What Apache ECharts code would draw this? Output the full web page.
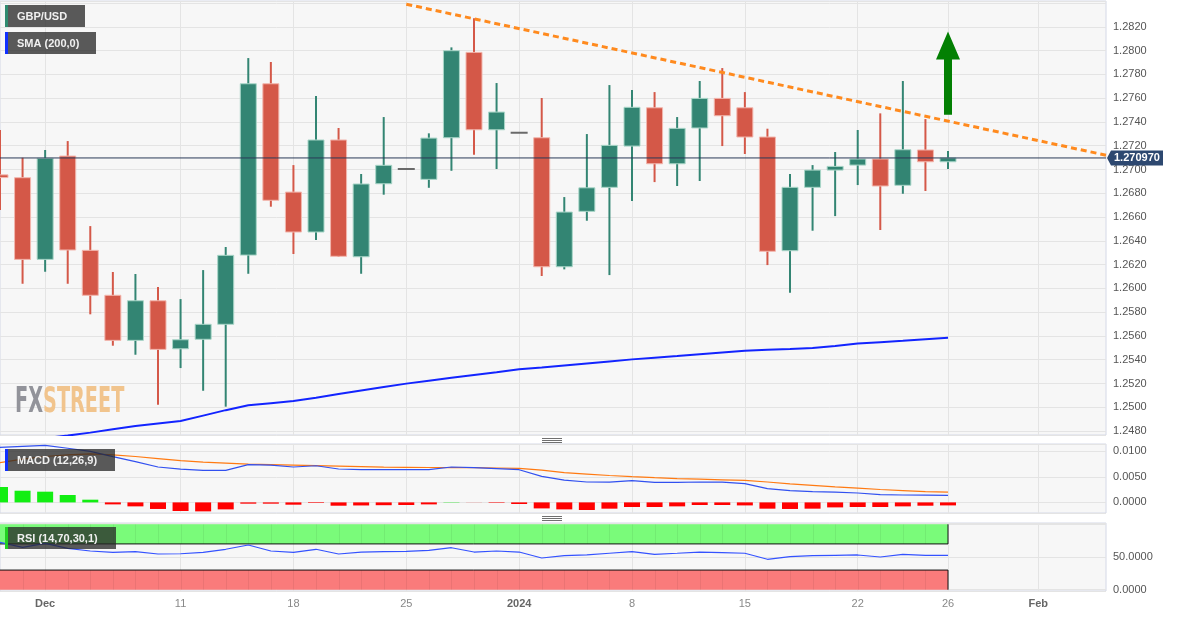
<!DOCTYPE html>
<html><head><meta charset="utf-8">
<script src="https://cdn.jsdelivr.net/npm/echarts@6.0.0/dist/echarts.min.js"></script>
<style>html,body{margin:0;padding:0;background:#fff;}#chart{width:1182px;height:617px;}</style>
</head><body><div id="chart"></div>
<script>
// ---------- data ----------
const dates = ['2023-11-29','2023-11-30','2023-12-01','2023-12-04','2023-12-05','2023-12-06','2023-12-07','2023-12-08',
'2023-12-11','2023-12-12','2023-12-13','2023-12-14','2023-12-15','2023-12-18','2023-12-19','2023-12-20','2023-12-21','2023-12-22',
'2023-12-25','2023-12-26','2023-12-27','2023-12-28','2023-12-29','2024-01-01','2024-01-02','2024-01-03','2024-01-04','2024-01-05',
'2024-01-08','2024-01-09','2024-01-10','2024-01-11','2024-01-12','2024-01-15','2024-01-16','2024-01-17','2024-01-18','2024-01-19',
'2024-01-22','2024-01-23','2024-01-24','2024-01-25','2024-01-26','2024-01-29','2024-01-30','2024-01-31','2024-02-01','2024-02-02',
'2024-02-05','2024-02-06'];
const tickDates = ['2023-12-01','2023-12-11','2023-12-18','2023-12-25','2024-01-01','2024-01-08','2024-01-15','2024-01-22','2024-01-26','2024-02-01'];
const tickLabels = ['Dec','11','18','25','2024','8','15','22','26','Feb'];
const boldLabels = ['Dec','2024','Feb'];

const opens  = [1.26955,1.26931,1.26244,1.27113,1.26320,1.25942,1.25563,1.25896,1.25492,1.25572,1.25698,1.26280,1.27721,1.26810,1.26474,1.27248,1.26266,1.26880,1.27004,1.26917,1.27267,1.27985,1.27334,1.27309,1.27267,1.26182,1.26648,1.26850,1.27197,1.27519,1.27048,1.27349,1.27598,1.27519,1.27273,1.26317,1.26850,1.26995,1.27037,1.27088,1.26867,1.27164,1.27065];
const closes = [1.26932,1.26244,1.27094,1.26323,1.25942,1.25563,1.25896,1.25487,1.25568,1.25698,1.26278,1.27721,1.26741,1.26474,1.27248,1.26270,1.26878,1.27035,1.27004,1.27264,1.27999,1.27334,1.27483,1.27309,1.26182,1.26642,1.26846,1.27203,1.27523,1.27048,1.27346,1.27598,1.27452,1.27273,1.26312,1.26850,1.26995,1.27026,1.27088,1.26861,1.27166,1.27065,1.27097];
const lows   = [1.26659,1.26039,1.26140,1.26039,1.25782,1.25518,1.25442,1.25022,1.25330,1.25139,1.25005,1.26123,1.26687,1.26289,1.26407,1.26264,1.26123,1.26788,1.27004,1.26846,1.26989,1.27124,1.27004,1.27309,1.26104,1.26160,1.26569,1.26112,1.26735,1.26894,1.26861,1.26903,1.27197,1.27130,1.26196,1.25963,1.26485,1.26608,1.26869,1.26491,1.26796,1.26819,1.27004];
const highs  = [1.27332,1.27099,1.27164,1.27239,1.26524,1.26138,1.26121,1.26011,1.25910,1.26154,1.26348,1.27937,1.27904,1.27037,1.27618,1.27349,1.26962,1.27441,1.27004,1.27304,1.28027,1.28271,1.27727,1.27309,1.27601,1.26768,1.27298,1.27710,1.27668,1.27651,1.27441,1.27744,1.27853,1.27651,1.27343,1.26962,1.27037,1.27147,1.27332,1.27472,1.27744,1.27424,1.27155];

const sma200 = [1.24690,1.24716,1.24741,1.24762,1.24787,1.24816,1.24842,1.24863,1.24884,1.24930,1.24976,1.25018,1.25035,1.25052,1.25081,1.25111,1.25141,1.25171,1.25199,1.25224,1.25248,1.25272,1.25295,1.25319,1.25335,1.25352,1.25369,1.25386,1.25403,1.25417,1.25431,1.25446,1.25461,1.25475,1.25483,1.25490,1.25498,1.25515,1.25536,1.25548,1.25560,1.25573,1.25584];

const macdLine = [0.01078,0.01098,0.01117,0.01062,0.01000,0.00896,0.00798,0.00694,0.00651,0.00627,0.00627,0.00739,0.00729,0.00694,0.00719,0.00655,0.00641,0.00641,0.00641,0.00641,0.00694,0.00680,0.00661,0.00641,0.00510,0.00435,0.00400,0.00396,0.00425,0.00392,0.00392,0.00400,0.00396,0.00367,0.00269,0.00229,0.00210,0.00200,0.00184,0.00151,0.00145,0.00141,0.00137];
const signalLine = [0.00780,0.00850,0.00900,0.00930,0.00950,0.00930,0.00900,0.00860,0.00820,0.00790,0.00770,0.00750,0.00740,0.00730,0.00720,0.00710,0.00700,0.00690,0.00688,0.00684,0.00682,0.00680,0.00674,0.00666,0.00632,0.00585,0.00555,0.00527,0.00505,0.00485,0.00468,0.00455,0.00443,0.00430,0.00400,0.00365,0.00335,0.00305,0.00280,0.00253,0.00232,0.00213,0.00200];
const macdHist = [0.00302,0.00229,0.00210,0.00145,0.00053,-0.00039,-0.00078,-0.00129,-0.00169,-0.00176,-0.00137,-0.00025,-0.00025,-0.00045,-0.00012,-0.00065,-0.00060,-0.00055,-0.00051,-0.00039,0.00006,-0.00002,-0.00010,-0.00031,-0.00118,-0.00137,-0.00149,-0.00123,-0.00090,-0.00090,-0.00078,-0.00051,-0.00051,-0.00059,-0.00123,-0.00129,-0.00123,-0.00098,-0.00090,-0.00090,-0.00078,-0.00065,-0.00059];

const rsi = [72.5,64.8,70.9,63.3,59.2,57.2,58.1,54.6,55.0,57.2,61.8,68.3,59.2,57.2,61.8,54.6,57.6,58.1,58.7,60.2,64.2,57.6,59.2,57.6,48.5,52.0,53.1,55.7,58.1,54.1,55.7,57.6,56.6,55.7,46.5,50.5,52.0,52.6,53.1,50.0,54.1,52.6,52.6];
const rsiBands = [[70,100],[0,30]];

const lastPrice = 1.270970;
const trendLine = [['2023-12-25',1.2839],['2024-02-06',1.2712]];
const arrowUp = ['2024-01-26',1.2746,1.2816];

// ---------- helpers ----------
const FONT = "'Liberation Sans', Arial, sans-serif";
const lastIdx = closes.length - 1;
const isTick = (i) => tickDates.indexOf(dates[i]) >= 0;
const isMult = (v, s) => Math.abs(v / s - Math.round(v / s)) < 1e-6;
const candleData = opens.map((o, i) => [i, o, closes[i], lows[i], highs[i]]);

function renderCandle(params, api) {
  const i = api.value(0), o = api.value(1), c = api.value(2), l = api.value(3), h = api.value(4);
  const po = api.coord([i, o]), pc = api.coord([i, c]), pl = api.coord([i, l]), ph = api.coord([i, h]);
  const x = po[0], W = 17;
  if (o === c) {
    return {type:'rect', shape:{x:x - W/2, y:po[1] - 1, width:W, height:2}, style:{fill:'#6a6a6a'}};
  }
  const up = c > o;
  const fill = up ? '#338573' : '#d45848';
  const edge = up ? '#a9d6c8' : '#f2b6ad';
  const top = Math.min(po[1], pc[1]), bot = Math.max(po[1], pc[1]);
  return {type:'group', children:[
    {type:'rect', shape:{x:x - 1, y:ph[1], width:2, height:pl[1] - ph[1]}, style:{fill:fill}},
    {type:'rect', shape:{x:x - W/2 + 0.5, y:top, width:W - 1, height:Math.max(bot - top, 1.5)}, style:{fill:fill, stroke:edge, lineWidth:1}}
  ]};
}

function renderArrow(params, api) {
  const i = api.value(0);
  const pf = api.coord([i, api.value(1)]), pt = api.coord([i, api.value(2)]);
  const x = pf[0], yF = pf[1], yT = pt[1], hl = 28, sw = 4, hw = 12;
  return {type:'polygon', shape:{points:[[x - sw, yF],[x - sw, yT + hl],[x - hw, yT + hl],[x, yT],[x + hw, yT + hl],[x + sw, yT + hl],[x + sw, yF]]},
    style:{fill:'#038003'}};
}

function renderTag(params, api) {
  const p = api.coord([api.value(0), api.value(1)]);
  const cs = params.coordSys;
  const xr = cs.x + cs.width, y = p[1];
  return {type:'group', children:[
    {type:'polygon', shape:{points:[[xr + 1, y],[xr + 5, y - 7.5],[xr + 57, y - 7.5],[xr + 57, y + 7.5],[xr + 5, y + 7.5]]}, style:{fill:'#2d4870'}},
    {type:'text', x:xr + 8, y:y + 0.5, style:{text:lastPrice.toFixed(6), fill:'#ffffff', font:'bold 11px ' + FONT, align:'left', verticalAlign:'middle'}}
  ]};
}

function renderBand(params, api) {
  const endI = api.value(0), lo = api.value(1), hi = api.value(2);
  const cs = params.coordSys;
  const xl = cs.x - 2;
  const xe = api.coord([endI, lo])[0];
  const yLo = api.coord([endI, lo])[1], yHi = api.coord([endI, hi])[1];
  const green = params.dataIndex === 0;
  const children = [
    {type:'rect', shape:{x:xl, y:yHi, width:xe - xl, height:yLo - yHi}, style:{fill: green ? '#7afb7a' : '#fa7b7b'}}
  ];
  for (let k = 1; k < endI; k++) {
    const xk = Math.round(api.coord([k, lo])[0]) + 0.5;
    children.push({type:'line', shape:{x1:xk, y1:yHi, x2:xk, y2:yLo}, style:{stroke:'rgba(0,0,0,0.06)', lineWidth:1}});
  }
  const yEdge = green ? yLo : yHi;
  children.push({type:'line', shape:{x1:xl, y1:yEdge, x2:xe, y2:yEdge}, style:{stroke:'#111', lineWidth:1}});
  children.push({type:'line', shape:{x1:xe, y1:yHi, x2:xe, y2:yLo}, style:{stroke:'#111', lineWidth:1}});
  return {type:'group', children:children};
}

function legendBox(x, y, w, text, barColor) {
  return {type:'group', x:x, y:y, z:100, children:[
    {type:'rect', z:100, shape:{x:0, y:0, width:w, height:22}, style:{fill:'rgba(40,40,40,0.76)'}},
    {type:'rect', z:101, shape:{x:0, y:0, width:3, height:22}, style:{fill:barColor}},
    {type:'text', z:102, x:12, y:11.5, style:{text:text, fill:'#f0f0f0', font:'bold 11px ' + FONT, verticalAlign:'middle'}}
  ]};
}
function handle(cx, cy) {
  const ch = [];
  for (let k = -1; k <= 1; k++) ch.push({type:'line', z:100, shape:{x1:cx - 10, y1:cy + 2*k + 0.5, x2:cx + 10, y2:cy + 2*k + 0.5}, style:{stroke:'#707070', lineWidth:1}});
  return {type:'group', z:100, children:ch};
}

const gridStyle = {show:true, backgroundColor:'#f7f7f7', borderColor:'#d4d8e6', borderWidth:1};
const splitCol = '#e4e4e4';

const xAxes = [0,1,2].map(g => ({
  type:'category', gridIndex:g, data:dates, boundaryGap:false,
  axisLine:{show:false}, axisTick:{show:false},
  splitLine:{show:true, interval:(i) => isTick(i), lineStyle:{color:splitCol, width:1}},
  axisLabel: g === 2 ? {
    show:true, interval:(i) => isTick(i), margin:7, fontSize:11, fontFamily:FONT, color:'#888',
    formatter:(v) => { const k = tickDates.indexOf(v); if (k < 0) return ''; const t = tickLabels[k]; return boldLabels.indexOf(t) >= 0 ? '{b|' + t + '}' : '{n|' + t + '}'; },
    rich:{b:{fontWeight:'bold', color:'#666', fontSize:11, fontFamily:FONT}, n:{color:'#888', fontSize:11, fontFamily:FONT}}
  } : {show:false, interval:(i) => isTick(i)}
}));

const yLabel = {color:'#555', fontSize:11, fontFamily:FONT, margin:7};

const option = {
  animation:false,
  backgroundColor:'#ffffff',
  textStyle:{fontFamily:FONT},
  grid:[
    Object.assign({left:0, top:1, width:1106, height:434}, gridStyle),
    Object.assign({left:0, top:444, width:1106, height:69}, gridStyle),
    Object.assign({left:0, top:523, width:1106, height:68}, gridStyle)
  ],
  xAxis:xAxes,
  yAxis:[
    {type:'value', gridIndex:0, position:'right', min:1.24767, max:1.28417, minInterval:0.002, maxInterval:0.002, splitNumber:18,
      axisLine:{show:false}, axisTick:{show:false}, splitLine:{lineStyle:{color:splitCol}},
      axisLabel:Object.assign({formatter:(v) => (isMult(v, 0.002) && v < 1.283) ? v.toFixed(4) : ''}, yLabel)},
    {type:'value', gridIndex:1, position:'right', min:-0.00208, max:0.01145, minInterval:0.005, maxInterval:0.005, splitNumber:3,
      axisLine:{show:false}, axisTick:{show:false}, splitLine:{lineStyle:{color:splitCol}},
      axisLabel:Object.assign({formatter:(v) => (isMult(v, 0.005) && v > -0.001 && v < 0.0105) ? v.toFixed(4) : ''}, yLabel)},
    {type:'value', gridIndex:2, position:'right', min:-2, max:102, minInterval:50, maxInterval:50, splitNumber:2,
      axisLine:{show:false}, axisTick:{show:false}, splitLine:{lineStyle:{color:splitCol}},
      axisLabel:Object.assign({formatter:(v) => (v === 0 || v === 50) ? v.toFixed(4) : ''}, yLabel)}
  ],
  series:[
    {type:'line', name:'SMA (200,0)', xAxisIndex:0, yAxisIndex:0, data:sma200, showSymbol:false, symbol:'none',
      lineStyle:{color:'#1224ff', width:2}, z:2},
    {type:'custom', name:'GBP/USD', xAxisIndex:0, yAxisIndex:0, data:candleData, encode:{x:0, y:[1,2,3,4]},
      renderItem:renderCandle, clip:true, z:3},
    {type:'line', name:'price', xAxisIndex:0, yAxisIndex:0, data:[[dates[0], lastPrice],[dates[dates.length - 1], lastPrice]],
      showSymbol:false, symbol:'none', lineStyle:{color:'#2a3a58', width:1}, z:4},
    {type:'line', name:'trend', xAxisIndex:0, yAxisIndex:0, data:trendLine, showSymbol:false, symbol:'none',
      lineStyle:{color:'#ff8a1e', width:3, type:[6,4]}, z:5},
    {type:'custom', name:'arrow', xAxisIndex:0, yAxisIndex:0, data:[[dates.indexOf(arrowUp[0]), arrowUp[1], arrowUp[2]]],
      encode:{x:0, y:[1,2]}, renderItem:renderArrow, clip:true, z:6},
    {type:'custom', name:'tag', xAxisIndex:0, yAxisIndex:0, data:[[lastIdx, lastPrice]], encode:{x:0, y:1},
      renderItem:renderTag, clip:false, z:50},

    {type:'bar', name:'hist', xAxisIndex:1, yAxisIndex:1, barWidth:16,
      data:macdHist.map(v => ({value:v, itemStyle:{color: v >= 0 ? '#12ee12' : '#ff0000'}})), z:2},
    {type:'line', name:'signal', xAxisIndex:1, yAxisIndex:1, data:signalLine, showSymbol:false, symbol:'none',
      lineStyle:{color:'#ff7a12', width:1.2}, z:3},
    {type:'line', name:'MACD', xAxisIndex:1, yAxisIndex:1, data:macdLine, showSymbol:false, symbol:'none',
      lineStyle:{color:'#3150f0', width:1.2}, z:4},

    {type:'custom', name:'bands', xAxisIndex:2, yAxisIndex:2, data:rsiBands.map(b => [lastIdx, b[0], b[1]]),
      encode:{x:0, y:[1,2]}, renderItem:renderBand, clip:true, z:1},
    {type:'line', name:'RSI', xAxisIndex:2, yAxisIndex:2, data:rsi, showSymbol:false, symbol:'none',
      lineStyle:{color:'#3452ff', width:1.2}, z:4}
  ],
  graphic:[
    {type:'text', x:15, y:403, z:1, scaleX:0.535, silent:true,
      style:{text:'{a|FX}{b|STREET}', verticalAlign:'middle',
        rich:{a:{fill:'#92939a', fontSize:36, fontWeight:'bold', fontFamily:'DejaVu Sans'},
              b:{fill:'#f1c48d', fontSize:36, fontWeight:'bold', fontFamily:'DejaVu Sans'}}}},
    legendBox(5, 5, 80, 'GBP/USD', '#2f8b70'),
    legendBox(5, 32, 91, 'SMA (200,0)', '#1030ff'),
    legendBox(5, 449, 110, 'MACD (12,26,9)', '#1030ff'),
    legendBox(5, 527, 111, 'RSI (14,70,30,1)', '#22d022'),
    handle(552, 440),
    handle(552, 518)
  ]
};

const chart = echarts.init(document.getElementById('chart'), null, {renderer:'canvas'});
chart.setOption(option);
</script>
</body></html>
